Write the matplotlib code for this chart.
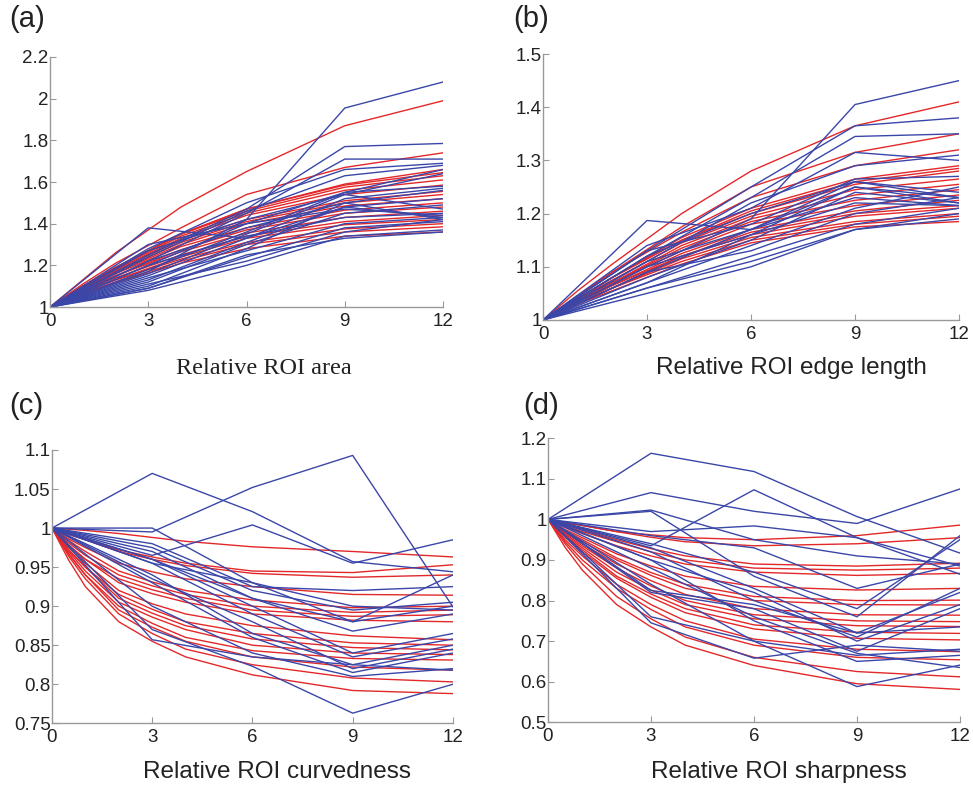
import matplotlib
matplotlib.use("Agg")
import matplotlib.pyplot as plt

plt.rcParams['font.family'] = ['Liberation Sans', 'DejaVu Sans']

# time points (months)
t_blue = [0, 3, 6, 9, 12]
t_red_ab = [0, 1, 2, 4, 6, 9, 12]
t_red_cd = [0, 0.5, 1, 2, 3, 4, 6, 9, 12]

# ---- (a) relative ROI area ----
blue_a = [
    [1.38, 1.33, 1.48, 1.43],
    [1.17, 1.42, 1.955, 2.08],
    [1.25, 1.47, 1.77, 1.785],
    [1.22, 1.45, 1.71, 1.71],
    [1.28, 1.50, 1.66, 1.69],
    [1.24, 1.46, 1.63, 1.68],
    [1.20, 1.40, 1.55, 1.66],
    [1.27, 1.42, 1.54, 1.64],
    [1.18, 1.36, 1.55, 1.58],
    [1.15, 1.33, 1.52, 1.57],
    [1.22, 1.38, 1.50, 1.56],
    [1.13, 1.31, 1.48, 1.52],
    [1.16, 1.35, 1.54, 1.47],
    [1.12, 1.30, 1.45, 1.49],
    [1.20, 1.34, 1.43, 1.45],
    [1.10, 1.28, 1.50, 1.42],
    [1.14, 1.27, 1.40, 1.43],
    [1.09, 1.24, 1.38, 1.41],
    [1.11, 1.22, 1.36, 1.42],
    [1.08, 1.20, 1.34, 1.37],
    [1.09, 1.25, 1.33, 1.36],
    [1.30, 1.40, 1.47, 1.44],
]
red_a = [
    [1.13, 1.26, 1.48, 1.65, 1.87, 1.99],
    [1.11, 1.21, 1.38, 1.54, 1.67, 1.74],
    [1.10, 1.19, 1.35, 1.47, 1.59, 1.66],
    [1.10, 1.19, 1.35, 1.47, 1.585, 1.645],
    [1.10, 1.19, 1.35, 1.46, 1.575, 1.63],
    [1.095, 1.185, 1.34, 1.45, 1.56, 1.61],
    [1.09, 1.18, 1.33, 1.44, 1.54, 1.585],
    [1.09, 1.175, 1.32, 1.42, 1.51, 1.555],
    [1.09, 1.17, 1.31, 1.41, 1.50, 1.54],
    [1.085, 1.165, 1.30, 1.40, 1.485, 1.52],
    [1.085, 1.16, 1.29, 1.38, 1.465, 1.50],
    [1.08, 1.15, 1.275, 1.37, 1.45, 1.48],
    [1.08, 1.15, 1.265, 1.355, 1.43, 1.46],
    [1.075, 1.14, 1.25, 1.34, 1.41, 1.44],
    [1.07, 1.13, 1.24, 1.33, 1.395, 1.42],
    [1.07, 1.13, 1.23, 1.31, 1.375, 1.40],
    [1.065, 1.12, 1.22, 1.30, 1.36, 1.385],
    [1.06, 1.115, 1.21, 1.28, 1.34, 1.36],
]

# ---- (b) relative ROI edge length ----
blue_b = [
    [1.187, 1.17, 1.25, 1.22],
    [1.10, 1.19, 1.405, 1.45],
    [1.13, 1.25, 1.365, 1.38],
    [1.12, 1.23, 1.345, 1.35],
    [1.14, 1.21, 1.315, 1.30],
    [1.11, 1.22, 1.29, 1.31],
    [1.13, 1.18, 1.265, 1.27],
    [1.09, 1.17, 1.26, 1.24],
    [1.10, 1.16, 1.25, 1.23],
    [1.08, 1.15, 1.24, 1.22],
    [1.07, 1.16, 1.22, 1.215],
    [1.09, 1.13, 1.20, 1.23],
    [1.06, 1.12, 1.18, 1.21],
    [1.05, 1.10, 1.17, 1.19],
    [1.06, 1.11, 1.17, 1.20],
    [1.07, 1.14, 1.21, 1.25],
    [1.11, 1.17, 1.23, 1.215],
    [1.12, 1.20, 1.26, 1.23],
]
red_b = [
    [1.055, 1.105, 1.20, 1.28, 1.365, 1.41],
    [1.045, 1.09, 1.175, 1.25, 1.315, 1.35],
    [1.045, 1.09, 1.165, 1.23, 1.29, 1.32],
    [1.04, 1.08, 1.155, 1.21, 1.265, 1.29],
    [1.04, 1.08, 1.15, 1.205, 1.26, 1.285],
    [1.04, 1.08, 1.15, 1.20, 1.255, 1.28],
    [1.04, 1.075, 1.145, 1.195, 1.245, 1.265],
    [1.035, 1.07, 1.14, 1.19, 1.235, 1.255],
    [1.035, 1.07, 1.135, 1.185, 1.225, 1.245],
    [1.035, 1.07, 1.13, 1.18, 1.215, 1.235],
    [1.035, 1.065, 1.125, 1.17, 1.205, 1.225],
    [1.03, 1.065, 1.12, 1.165, 1.20, 1.215],
    [1.03, 1.06, 1.12, 1.16, 1.195, 1.21],
    [1.03, 1.06, 1.115, 1.155, 1.185, 1.20],
    [1.03, 1.06, 1.11, 1.15, 1.18, 1.195],
    [1.03, 1.055, 1.105, 1.145, 1.175, 1.185],
]

# ---- (c) relative ROI curvedness ----
blue_c = [
    [1.07, 1.021, 0.957, 0.944],
    [0.995, 1.052, 1.093, 0.899],
    [0.965, 1.004, 0.955, 0.985],
    [1.0, 0.93, 0.88, 0.90],
    [0.98, 0.925, 0.92, 0.925],
    [0.975, 0.92, 0.895, 0.905],
    [0.97, 0.91, 0.868, 0.89],
    [0.96, 0.90, 0.84, 0.865],
    [0.955, 0.89, 0.835, 0.858],
    [0.94, 0.865, 0.825, 0.85],
    [0.935, 0.88, 0.82, 0.845],
    [0.93, 0.86, 0.815, 0.84],
    [0.90, 0.84, 0.81, 0.82],
    [0.87, 0.823, 0.763, 0.80],
    [0.857, 0.835, 0.825, 0.818],
    [0.955, 0.93, 0.90, 0.895],
    [0.96, 0.91, 0.88, 0.94],
]
red_c = [
    [0.9985, 0.997, 0.993, 0.988, 0.983, 0.976, 0.97, 0.963],
    [0.992, 0.985, 0.972, 0.963, 0.955, 0.945, 0.943, 0.953],
    [0.992, 0.985, 0.97, 0.96, 0.952, 0.942, 0.937, 0.94],
    [0.986, 0.975, 0.955, 0.944, 0.935, 0.925, 0.915, 0.914],
    [0.984, 0.97, 0.945, 0.931, 0.92, 0.908, 0.898, 0.90],
    [0.981, 0.965, 0.94, 0.926, 0.915, 0.90, 0.892, 0.895],
    [0.978, 0.96, 0.935, 0.921, 0.91, 0.895, 0.887, 0.889],
    [0.978, 0.96, 0.93, 0.916, 0.905, 0.89, 0.882, 0.88],
    [0.975, 0.955, 0.92, 0.903, 0.89, 0.875, 0.862, 0.857],
    [0.972, 0.95, 0.915, 0.896, 0.88, 0.865, 0.853, 0.85],
    [0.972, 0.95, 0.91, 0.891, 0.875, 0.858, 0.847, 0.844],
    [0.97, 0.945, 0.905, 0.886, 0.87, 0.85, 0.84, 0.838],
    [0.967, 0.94, 0.90, 0.878, 0.86, 0.843, 0.833, 0.831],
    [0.967, 0.94, 0.895, 0.873, 0.855, 0.835, 0.822, 0.818],
    [0.964, 0.935, 0.89, 0.865, 0.845, 0.825, 0.808, 0.803],
    [0.959, 0.925, 0.88, 0.855, 0.835, 0.812, 0.792, 0.788],
]

# ---- (d) relative ROI sharpness ----
blue_d = [
    [1.163, 1.118, 1.007, 0.917],
    [0.935, 1.073, 0.955, 0.865],
    [1.066, 1.02, 0.99, 1.075],
    [1.023, 0.95, 0.91, 0.89],
    [1.02, 0.86, 0.76, 0.96],
    [0.97, 0.984, 0.955, 0.885],
    [0.96, 0.93, 0.83, 0.89],
    [0.94, 0.87, 0.78, 0.95],
    [0.93, 0.83, 0.72, 0.82],
    [0.92, 0.80, 0.71, 0.83],
    [0.90, 0.82, 0.70, 0.79],
    [0.825, 0.79, 0.72, 0.735],
    [0.82, 0.78, 0.675, 0.78],
    [0.76, 0.70, 0.665, 0.68],
    [0.745, 0.658, 0.69, 0.675],
    [0.90, 0.75, 0.65, 0.665],
    [0.84, 0.70, 0.588, 0.641],
    [0.88, 0.76, 0.67, 0.635],
]
red_d = [
    [0.992, 0.985, 0.97, 0.962, 0.955, 0.95, 0.96, 0.986],
    [0.992, 0.985, 0.97, 0.956, 0.945, 0.935, 0.94, 0.955],
    [0.986, 0.975, 0.95, 0.928, 0.91, 0.89, 0.885, 0.892],
    [0.984, 0.97, 0.945, 0.92, 0.90, 0.88, 0.875, 0.88],
    [0.981, 0.965, 0.935, 0.91, 0.89, 0.87, 0.862, 0.867],
    [0.975, 0.955, 0.915, 0.885, 0.86, 0.835, 0.826, 0.83],
    [0.972, 0.95, 0.905, 0.869, 0.84, 0.81, 0.80, 0.801],
    [0.97, 0.945, 0.90, 0.862, 0.83, 0.80, 0.79, 0.789],
    [0.967, 0.94, 0.89, 0.849, 0.815, 0.78, 0.765, 0.764],
    [0.964, 0.935, 0.88, 0.836, 0.80, 0.765, 0.75, 0.748],
    [0.961, 0.93, 0.87, 0.826, 0.79, 0.755, 0.738, 0.736],
    [0.959, 0.925, 0.86, 0.816, 0.78, 0.74, 0.722, 0.719],
    [0.956, 0.92, 0.855, 0.808, 0.77, 0.73, 0.707, 0.703],
    [0.95, 0.91, 0.84, 0.79, 0.75, 0.705, 0.68, 0.674],
    [0.945, 0.90, 0.83, 0.778, 0.735, 0.69, 0.66, 0.654],
    [0.94, 0.89, 0.81, 0.755, 0.71, 0.66, 0.625, 0.612],
    [0.931, 0.875, 0.79, 0.735, 0.69, 0.64, 0.595, 0.581],
]

panels = [
    ('(a)', 'Relative ROI area', blue_a, red_a, t_red_ab, (1, 2.2),
     [1, 1.2, 1.4, 1.6, 1.8, 2, 2.2], ['1', '1.2', '1.4', '1.6', '1.8', '2', '2.2']),
    ('(b)', 'Relative ROI edge length', blue_b, red_b, t_red_ab, (1, 1.5),
     [1, 1.1, 1.2, 1.3, 1.4, 1.5], ['1', '1.1', '1.2', '1.3', '1.4', '1.5']),
    ('(c)', 'Relative ROI curvedness', blue_c, red_c, t_red_cd, (0.75, 1.1),
     [0.75, 0.8, 0.85, 0.9, 0.95, 1, 1.05, 1.1],
     ['0.75', '0.8', '0.85', '0.9', '0.95', '1', '1.05', '1.1']),
    ('(d)', 'Relative ROI sharpness', blue_d, red_d, t_red_cd, (0.5, 1.2),
     [0.5, 0.6, 0.7, 0.8, 0.9, 1, 1.1, 1.2],
     ['0.5', '0.6', '0.7', '0.8', '0.9', '1', '1.1', '1.2']),
]

# axes rectangles [left, bottom, width, height]
rects = [
    [0.0514, 0.6089, 0.4039, 0.3185],
    [0.5581, 0.5924, 0.4275, 0.3388],
    [0.0534, 0.0786, 0.4121, 0.3482],
    [0.5632, 0.0799, 0.4234, 0.3618],
]
# panel letter positions and x-label positions (figure fractions)
letter_pos = [(0.010, 0.993), (0.528, 0.993), (0.010, 0.500), (0.538, 0.500)]
xlabel_pos = [(0.271, 0.5236), (0.813, 0.5236), (0.285, 0.009), (0.800, 0.009)]

blue = '#3a47a8'
red = '#e3282a'

fig = plt.figure(figsize=(9.73, 7.85), dpi=100)

for i, (letter, xlabel, bl, rd, t_red, ylim, yt, ytl) in enumerate(panels):
    ax = fig.add_axes(rects[i])
    for r in rd:
        ax.plot(t_red, [1] + r, color=red, lw=1.0)
    for b in bl:
        ax.plot(t_blue, [1] + b, color=blue, lw=1.0)
    ax.set_xlim(0, 12)
    ax.set_ylim(*ylim)
    ax.set_xticks([0, 3, 6, 9, 12])
    ax.set_yticks(yt)
    ax.set_yticklabels(ytl)
    for s in ['top', 'right']:
        ax.spines[s].set_visible(False)
    for s in ['left', 'bottom']:
        ax.spines[s].set_color('#999999')
        ax.spines[s].set_linewidth(1.0)
    ax.tick_params(direction='in', length=4, color='#999999', labelsize=13.5,
                   labelcolor='#222222')
    ax.tick_params(axis='x', pad=4)
    ax.tick_params(axis='y', pad=1)
    fig.text(letter_pos[i][0], letter_pos[i][1], letter, fontsize=21,
             color='#222222', va='top', ha='left')
    if i == 0:
        fig.text(xlabel_pos[i][0], xlabel_pos[i][1], xlabel, fontsize=17.5,
                 family='Liberation Serif', color='#222222', ha='center', va='baseline')
    else:
        fig.text(xlabel_pos[i][0], xlabel_pos[i][1], xlabel, fontsize=17.5,
                 color='#222222', ha='center', va='baseline')

fig.savefig('out.png', dpi=100)
